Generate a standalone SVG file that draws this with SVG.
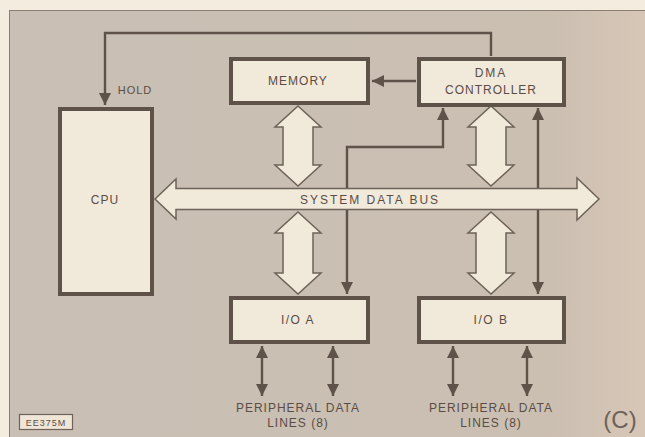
<svg xmlns="http://www.w3.org/2000/svg" width="645" height="437" viewBox="0 0 645 437">
<defs>
<linearGradient id="pg" x1="0" y1="0" x2="1" y2="0">
<stop offset="0" stop-color="#c9bfb4"/>
<stop offset="0.85" stop-color="#cbbfb2"/>
<stop offset="1" stop-color="#d7c6b6"/>
</linearGradient>
<marker id="ah" viewBox="0 0 10 10" refX="10" refY="5" markerWidth="5" markerHeight="5" orient="auto-start-reverse" markerUnits="strokeWidth">
<path d="M0,0 L10,5 L0,10 Z" fill="#5e5249"/>
</marker>
<style>
.box{fill:#f1e9da;stroke:#5e5249;stroke-width:4}
.big{fill:#f1e9da;stroke:#6e6259;stroke-width:1.5;stroke-linejoin:miter}
.ln{fill:none;stroke:#5e5249;stroke-width:2.4}
.t{font-family:"Liberation Sans","DejaVu Sans",sans-serif;font-size:12px;fill:#5a4d45;text-anchor:middle;letter-spacing:1px}
</style>
</defs>
<rect x="0" y="0" width="645" height="437" fill="#f3ecdf"/>
<rect x="9" y="10" width="636" height="427" fill="url(#pg)"/>
<line x1="9" y1="10.5" x2="645" y2="10.5" stroke="#8a7e74" stroke-width="1"/>
<line x1="9.5" y1="10" x2="9.5" y2="437" stroke="#8a7e74" stroke-width="1"/>

<g id="connectors">
<path class="ln" d="M491,56 V33 H105 V105" marker-end="url(#ah)"/>
<path class="ln" d="M416,81 H372" marker-end="url(#ah)"/>
<path class="ln" d="M443,108 V147 H347 V294" marker-start="url(#ah)" marker-end="url(#ah)"/>
<path class="ln" d="M538,108 V294" marker-start="url(#ah)" marker-end="url(#ah)"/>
<path class="ln" d="M262,346 V396" marker-start="url(#ah)" marker-end="url(#ah)"/>
<path class="ln" d="M333,346 V396" marker-start="url(#ah)" marker-end="url(#ah)"/>
<path class="ln" d="M453,346 V396" marker-start="url(#ah)" marker-end="url(#ah)"/>
<path class="ln" d="M527,346 V396" marker-start="url(#ah)" marker-end="url(#ah)"/>
<path class="big" d="M298,106 L321,127 L313,127 L313,165 L321,165 L298,186 L275,165 L283,165 L283,127 L275,127 Z"/>
<path class="big" d="M491,106 L514,127 L506,127 L506,165 L514,165 L491,186 L468,165 L476,165 L476,127 L468,127 Z"/>
<path class="big" d="M298,212 L321,233 L313,233 L313,273 L321,273 L298,294 L275,273 L283,273 L283,233 L275,233 Z"/>
<path class="big" d="M491,212 L514,233 L506,233 L506,273 L514,273 L491,294 L468,273 L476,273 L476,233 L468,233 Z"/>
</g>

<g id="bus">
<path class="big" d="M155,199 L176,179 L176,188.5 L577,188.5 L577,178 L599,199 L577,220 L577,209.5 L176,209.5 L176,219 Z"/>
<text class="t" x="370" y="204" style="letter-spacing:2px">SYSTEM DATA BUS</text>
</g>

<g id="cpu">
<rect class="box" x="60" y="109" width="92" height="185"/>
<text class="t" x="105" y="204">CPU</text>
<text class="t" x="135" y="94" style="font-size:11px">HOLD</text>
</g>

<g id="memory">
<rect class="box" x="231" y="59" width="137" height="44"/>
<text class="t" x="298" y="85">MEMORY</text>
</g>

<g id="dma">
<rect class="box" x="419" y="59" width="145" height="46"/>
<text class="t" x="491" y="77" style="letter-spacing:2px">DMA</text>
<text class="t" x="491" y="94">CONTROLLER</text>
</g>

<g id="ioa">
<rect class="box" x="231" y="298" width="137" height="44"/>
<text class="t" x="298" y="324" style="letter-spacing:1.5px">I/O A</text>
<text class="t" x="298" y="412">PERIPHERAL DATA</text>
<text class="t" x="298" y="427">LINES (8)</text>
</g>

<g id="iob">
<rect class="box" x="419" y="298" width="145" height="44"/>
<text class="t" x="491" y="324" style="letter-spacing:1.5px">I/O B</text>
<text class="t" x="491" y="412">PERIPHERAL DATA</text>
<text class="t" x="491" y="427">LINES (8)</text>
</g>

<g id="tag">
<rect x="19.5" y="414.5" width="53" height="15" fill="#efe6d7" stroke="#6e6259" stroke-width="1.2"/>
<text class="t" x="46" y="426" style="font-size:9px">EE375M</text>
</g>
<text x="620" y="428" style="font-family:'Liberation Sans','DejaVu Sans',sans-serif;font-size:24px;fill:#6e6259;text-anchor:middle">(C)</text>
</svg>
